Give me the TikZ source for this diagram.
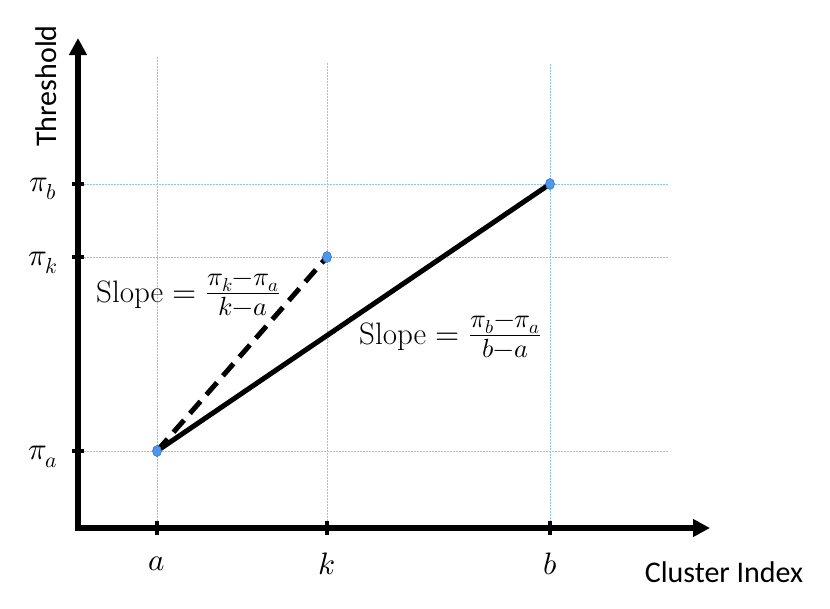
\documentclass[tikz,border=0pt]{standalone}
\usepackage{fontspec}
\usepackage{unicode-math}
\setmathfont{Latin Modern Math}
\newfontfamily\calibri{Carlito}
\newcommand{\bigfrac}[2]{\mbox{\fontsize{37.5}{40}\selectfont$\frac{#1}{#2}$}}
\usetikzlibrary{arrows.meta,shapes.geometric}
\definecolor{gridblue}{RGB}{140,195,250}
\definecolor{dotblue}{RGB}{80,150,235}
\definecolor{dotedge}{RGB}{40,110,210}
\tikzset{
  gridline/.style={gridblue, line width=0.9pt, dash pattern=on 2pt off 1pt},
  axisline/.style={line width=5.5pt, -{Triangle[length=17pt,width=17pt]}},
  tickmark/.style={line width=4.5pt},
  pt/.style={ellipse, draw=dotedge, fill=dotblue, line width=0.6pt, minimum width=9pt, minimum height=11pt, inner sep=0pt},
  mainline/.style={line width=5pt},
  lab/.style={font=\fontsize{31}{36}\selectfont, inner sep=0pt},
  sanslab/.style={font=\calibri\fontsize{30}{36}\selectfont, inner sep=0pt},
}
\begin{document}
\begin{tikzpicture}[x=1pt,y=-1pt]
\useasboundingbox (0,0) rectangle (830,608);
% grid
\coordinate (ga1) at (157,57); \coordinate (ga2) at (157,528);
\coordinate (gk1) at (327,63); \coordinate (gk2) at (327,528);
\coordinate (gb1) at (550,64); \coordinate (gb2) at (550,528);
\coordinate (hb1) at (78,184); \coordinate (hb2) at (668,184);
\coordinate (hk1) at (78,257); \coordinate (hk2) at (668,257);
\coordinate (ha1) at (78,451); \coordinate (ha2) at (668,451);
\draw[gridline] (ga1) -- (ga2);
\draw[gridline] (gk1) -- (gk2);
\draw[gridline] (gb1) -- (gb2);
\draw[gridline] (hb1) -- (hb2);
\draw[gridline] (hk1) -- (hk2);
\draw[gridline] (ha1) -- (ha2);
% axes
\coordinate (ystart) at (78,530.75);
\coordinate (xstart) at (75.25,528);
\coordinate (ytip) at (78,38);
\coordinate (xtip) at (710,528);
\draw[axisline] (ystart) -- (ytip);
\draw[axisline] (xstart) -- (xtip);
% ticks
\coordinate (tyb1) at (72,184); \coordinate (tyb2) at (84,184);
\coordinate (tyk1) at (72,257); \coordinate (tyk2) at (84,257);
\coordinate (tya1) at (72,451); \coordinate (tya2) at (84,451);
\coordinate (txa1) at (157,521); \coordinate (txa2) at (157,535);
\coordinate (txk1) at (327,521); \coordinate (txk2) at (327,535);
\coordinate (txb1) at (550,521); \coordinate (txb2) at (550,535);
\draw[tickmark] (tyb1) -- (tyb2);
\draw[tickmark] (tyk1) -- (tyk2);
\draw[tickmark] (tya1) -- (tya2);
\draw[tickmark] (txa1) -- (txa2);
\draw[tickmark] (txk1) -- (txk2);
\draw[tickmark] (txb1) -- (txb2);
% lines
\coordinate (A) at (157,451);
\coordinate (K) at (327,257);
\coordinate (B) at (550,184);
\draw[mainline, dash pattern=on 16pt off 9pt] (A) -- (K);
\draw[mainline] (A) -- (B);
\node[pt] (pA) at (A) {};
\node[pt] (pK) at (K) {};
\node[pt] (pB) at (B) {};
% labels
\node[lab] (lpb) at (43,189) {$\pi_b$};
\node[lab] (lpk) at (43,263) {$\pi_k$};
\node[lab] (lpa) at (43,457) {$\pi_a$};
\node[lab] (la) at (157,564) {$a$};
\node[lab] (lk) at (327,564) {$k$};
\node[lab] (lb) at (550,564) {$b$};
\node[sanslab] (xl) at (724,572) {Cluster Index};
\node[sanslab, rotate=90] (yl) at (46,86) {Threshold};
\node[lab, anchor=west] (s1) at (96,295) {Slope $=$ \bigfrac{\pi_k-\pi_a}{k-a}};
\node[lab, anchor=west] (s2) at (359,337) {Slope $=$ \bigfrac{\pi_b-\pi_a}{b-a}};
\end{tikzpicture}
\end{document}
